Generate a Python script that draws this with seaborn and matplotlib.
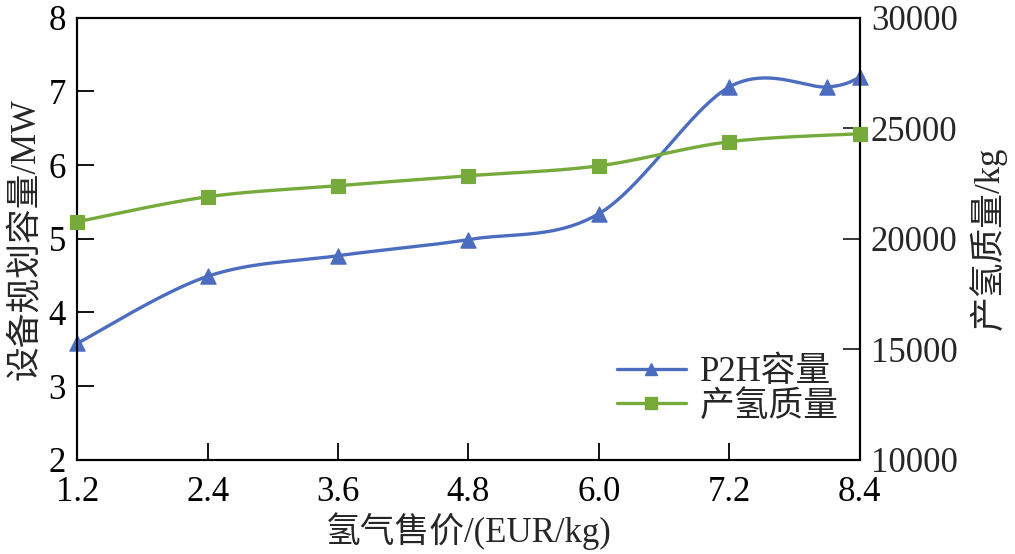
import numpy as np
import pandas as pd
import matplotlib
matplotlib.use("Agg")
import matplotlib.pyplot as plt
import seaborn as sns
from matplotlib.lines import Line2D

# ---- data ----
x_p2h = [1.2, 2.4, 3.6, 4.8, 6.0, 7.2, 8.1, 8.4]
p2h_mw = [3.58, 4.49, 4.77, 4.99, 5.34, 7.06, 7.06, 7.19]
x_h2 = [1.2, 2.4, 3.6, 4.8, 6.0, 7.2, 8.4]
h2_kg = [20770, 21900, 22400, 22850, 23300, 24390, 24750]
xticks = [1.2, 2.4, 3.6, 4.8, 6.0, 7.2, 8.4]
xtick_labels = ["1.2", "2.4", "3.6", "4.8", "6.0", "7.2", "8.4"]
series_names = ["P2H容量", "产氢质量"]
xlabel = "氢气售价/(EUR/kg)"
ylabel_left = "设备规划容量/MW"
ylabel_right = "产氢质量/kg"

BLUE = "#4C6DBF"
GREEN = "#76AB3C"


def smooth(xs, ys, n=40):
    """Excel-like smoothed line (Catmull-Rom Bezier, endpoints duplicated)."""
    P = np.column_stack([np.asarray(xs, float), np.asarray(ys, float)])
    P = np.vstack([P[0], P, P[-1]])
    out = []
    t = np.linspace(0, 1, n)[:, None]
    for i in range(1, len(P) - 2):
        p0, p1, p2, p3 = P[i - 1], P[i], P[i + 1], P[i + 2]
        c1 = p1 + (p2 - p0) / 6.0
        c2 = p2 - (p3 - p1) / 6.0
        seg = ((1 - t) ** 3) * p1 + 3 * ((1 - t) ** 2) * t * c1 + 3 * (1 - t) * t ** 2 * c2 + t ** 3 * p2
        out.append(seg if i == 1 else seg[1:])
    seg = np.vstack(out)
    return seg[:, 0], seg[:, 1]


sns.set_theme(style="white")
plt.rcParams["font.family"] = ["Liberation Serif", "Noto Sans CJK SC"]
plt.rcParams["axes.unicode_minus"] = False

fig = plt.figure(figsize=(10.15, 5.54), dpi=100)
ax = fig.add_axes([0.076, 0.170, 0.771, 0.798])
ax2 = ax.twinx()

sx, sy = smooth(x_p2h, p2h_mw)
sns.lineplot(x=sx, y=sy, ax=ax, color=BLUE, lw=2.4, sort=False, estimator=None)
sns.scatterplot(x=x_p2h, y=p2h_mw, ax=ax, color=BLUE, marker="^", s=120, edgecolor=BLUE,
                zorder=5, clip_on=False)

gx, gy = smooth(x_h2, h2_kg)
sns.lineplot(x=gx, y=gy, ax=ax2, color=GREEN, lw=2.4, sort=False, estimator=None)
sns.scatterplot(x=x_h2, y=h2_kg, ax=ax2, color=GREEN, marker="s", s=100, edgecolor=GREEN,
                zorder=5, clip_on=False)

ax.set_xlim(1.2, 8.4)
ax.set_ylim(2, 8)
ax2.set_ylim(10000, 30000)
ax.set_xticks(xticks)
ax.set_xticklabels(xtick_labels)
ax.set_yticks(range(2, 9))
ax2.set_yticks(range(10000, 30001, 5000))

fs = 25
ax.tick_params(axis="both", direction="in", length=12, width=1.3, labelsize=fs, colors="black",
               left=True, bottom=True, pad=8)
ax2.tick_params(axis="y", direction="in", length=12, width=1.3, labelsize=fs, right=True, pad=8)
ax.tick_params(axis="x", pad=12)

for a in (ax, ax2):
    for s in a.spines.values():
        s.set_color("black")
        s.set_linewidth(1.5)

ax.set_xlabel(xlabel, fontsize=fs, labelpad=2)
ax.set_ylabel(ylabel_left, fontsize=fs, labelpad=4)
ax2.set_ylabel(ylabel_right, fontsize=fs, labelpad=8)

handles = [Line2D([], [], color=BLUE, lw=2.4, marker="^", ms=9),
           Line2D([], [], color=GREEN, lw=2.4, marker="s", ms=8)]
ax.legend(handles, series_names, loc="lower right", bbox_to_anchor=(1.0, 0.035), frameon=False,
          fontsize=fs, handlelength=2.0, handletextpad=0.4, labelspacing=0.05, borderaxespad=0.2)

fig.savefig("out.png", dpi=100)
